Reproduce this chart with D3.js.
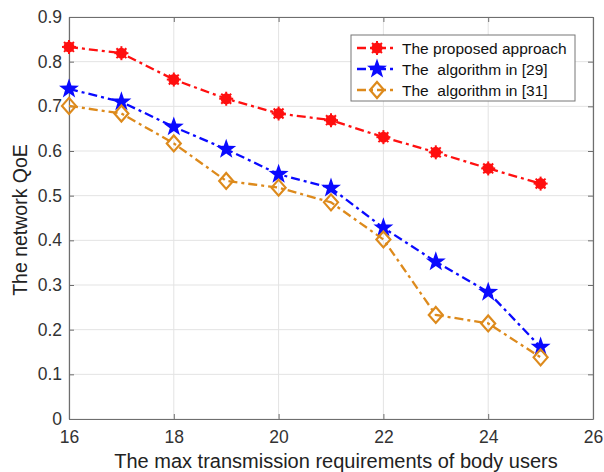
<!DOCTYPE html>
<html>
<head>
<meta charset="utf-8">
<script src="https://cdn.jsdelivr.net/npm/d3@7"></script>
<style>
  body { margin: 0; background: #fff; }
  text { font-family: "Liberation Sans", Arial, sans-serif; }
</style>
</head>
<body>
<div id="chart"></div>
<script>
// data
const users = [16, 17, 18, 19, 20, 21, 22, 23, 24, 25];
const proposed = [0.833, 0.819, 0.760, 0.717, 0.684, 0.669, 0.631, 0.597, 0.561, 0.527];
const alg29 = [0.739, 0.710, 0.654, 0.604, 0.548, 0.517, 0.428, 0.352, 0.284, 0.161];
const alg31 = [0.701, 0.684, 0.617, 0.533, 0.518, 0.485, 0.402, 0.233, 0.214, 0.138];
const seriesNames = ['The proposed approach', 'The  algorithm in [29]', 'The  algorithm in [31]'];
const xTicks = [16, 18, 20, 22, 24, 26];
const yTicks = [0, 0.1, 0.2, 0.3, 0.4, 0.5, 0.6, 0.7, 0.8, 0.9];

const W = 604, H = 472;
const margin = { top: 17, right: 11, bottom: 53, left: 69 },
    width = W - margin.left - margin.right,
    height = H - margin.top - margin.bottom;

const x = d3.scaleLinear().domain([16, 26]).range([0, width]);
const y = d3.scaleLinear().domain([0, 0.9]).range([height, 0]);

const svg = d3.select('#chart').append('svg')
    .attr('width', W).attr('height', H);
const g = svg.append('g')
    .attr('transform', 'translate(' + margin.left + ',' + margin.top + ')');

// grid
g.append('g').selectAll('line').data(xTicks).enter().append('line')
    .attr('x1', d => x(d)).attr('x2', d => x(d))
    .attr('y1', 0).attr('y2', height)
    .attr('stroke', '#e3e3e3').attr('stroke-width', 1);
g.append('g').selectAll('line').data(yTicks).enter().append('line')
    .attr('y1', d => y(d)).attr('y2', d => y(d))
    .attr('x1', 0).attr('x2', width)
    .attr('stroke', '#e3e3e3').attr('stroke-width', 1);

// axes (inward ticks, box on)
const axisColor = '#6e6e6e';
const xAxis = g.append('g').attr('transform', 'translate(0,' + height + ')')
    .call(d3.axisBottom(x).tickValues(xTicks).tickSizeInner(-5).tickSizeOuter(0).tickPadding(12).tickFormat(d3.format('d')));
const yAxis = g.append('g')
    .call(d3.axisLeft(y).tickValues(yTicks).tickSizeInner(-5).tickSizeOuter(0).tickPadding(7).tickFormat(d => d === 0 ? '0' : d3.format('.1f')(d)));
const xTop = g.append('g')
    .call(d3.axisTop(x).tickValues(xTicks).tickSizeInner(-5).tickSizeOuter(0).tickFormat(''));
const yRight = g.append('g').attr('transform', 'translate(' + width + ',0)')
    .call(d3.axisRight(y).tickValues(yTicks).tickSizeInner(-5).tickSizeOuter(0).tickFormat(''));
[xAxis, yAxis, xTop, yRight].forEach(a => {
    a.select('.domain').attr('stroke', axisColor).attr('stroke-width', 1.2);
    a.selectAll('.tick line').attr('stroke', axisColor);
    a.selectAll('.tick text').attr('fill', '#333').style('font-size', '17.5px')
        .style('font-family', '"Liberation Sans", Arial, sans-serif');
});

// axis titles
svg.append('text')
    .attr('x', 336).attr('y', 468)
    .attr('text-anchor', 'middle').attr('fill', '#222')
    .style('font-size', '20px')
    .text('The max transmission requirements of body users');
svg.append('text')
    .attr('transform', 'translate(27,' + 220 + ') rotate(-90)')
    .attr('text-anchor', 'middle').attr('fill', '#222')
    .style('font-size', '19.5px')
    .text('The network QoE');

// markers
function starPath(r) {
    const pts = [];
    for (let i = 0; i < 10; i++) {
        const a = -Math.PI / 2 + i * Math.PI / 5;
        const rr = i % 2 === 0 ? r : r * 0.4;
        pts.push([rr * Math.cos(a), rr * Math.sin(a)]);
    }
    return 'M' + pts.map(p => p.join(',')).join('L') + 'Z';
}
function drawMarker(sel, type, color) {
    if (type === 'asterisk') {
        sel.append('circle').attr('r', 5.5).attr('fill', color);
        for (let i = 0; i < 4; i++) {
            const a = i * Math.PI / 4;
            sel.append('line')
                .attr('x1', -7 * Math.cos(a)).attr('y1', -7 * Math.sin(a))
                .attr('x2', 7 * Math.cos(a)).attr('y2', 7 * Math.sin(a))
                .attr('stroke', color).attr('stroke-width', 2);
        }
    } else if (type === 'star') {
        sel.append('path').attr('d', starPath(10.5)).attr('fill', color);
    } else {
        sel.append('path').attr('d', 'M0,-8L7,0L0,8L-7,0Z')
            .attr('fill', 'none').attr('stroke', color).attr('stroke-width', 2.2);
    }
}

const series = [
    { name: seriesNames[0], values: proposed, color: '#ff1010', marker: 'asterisk' },
    { name: seriesNames[1], values: alg29, color: '#0a0aff', marker: 'star' },
    { name: seriesNames[2], values: alg31, color: '#dd8a1c', marker: 'diamond' }
];

const line = d3.line()
    .x((d, i) => x(users[i]))
    .y(d => y(d));

series.forEach(s => {
    g.append('path')
        .datum(s.values)
        .attr('d', line)
        .attr('fill', 'none')
        .attr('stroke', s.color)
        .attr('stroke-width', 2.3)
        .attr('stroke-dasharray', '9,4,3,4');
    g.selectAll(null).data(s.values).enter().append('g')
        .attr('transform', (d, i) => 'translate(' + x(users[i]) + ',' + y(d) + ')')
        .each(function () { drawMarker(d3.select(this), s.marker, s.color); });
});

// legend
const lg = svg.append('g').attr('transform', 'translate(351,35)');
lg.append('rect').attr('width', 224).attr('height', 66)
    .attr('fill', '#fff').attr('stroke', '#777').attr('stroke-width', 1);
series.forEach((s, i) => {
    const row = lg.append('g').attr('transform', 'translate(0,' + (13 + i * 21) + ')');
    row.append('line').attr('x1', 6).attr('x2', 46)
        .attr('stroke', s.color).attr('stroke-width', 2.3)
        .attr('stroke-dasharray', '9,4,3,4');
    drawMarker(row.append('g').attr('transform', 'translate(26,0)'), s.marker, s.color);
    row.append('text').attr('x', 51).attr('y', 5.5)
        .attr('fill', '#111').style('font-size', '15.5px')
        .style('white-space', 'pre')
        .text(s.name);
});
</script>
</body>
</html>
